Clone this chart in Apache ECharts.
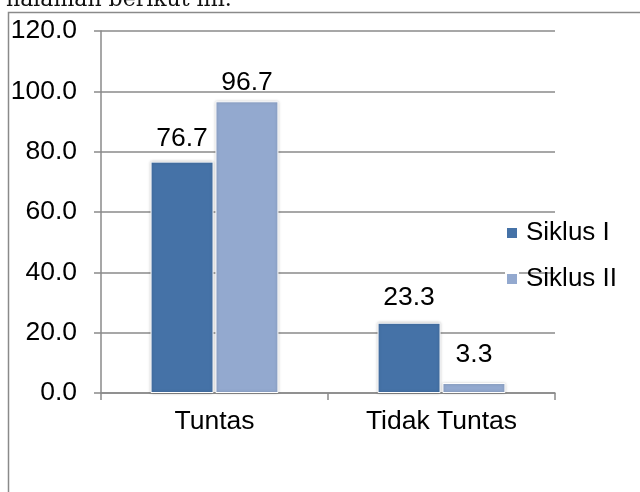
<!DOCTYPE html>
<html>
<head>
<meta charset="utf-8">
<script src="https://cdn.jsdelivr.net/npm/echarts@6/dist/echarts.min.js"></script>
<style>
html,body{margin:0;padding:0;background:#fff;}
#c{width:640px;height:492px;}
</style>
</head>
<body>
<div id="c"></div>
<script>
const categories = ['Tuntas', 'Tidak Tuntas'];
const siklusI = [76.7, 23.3];
const siklusII = [96.7, 3.3];
const seriesNames = ['Siklus I', 'Siklus II'];
const yTicks = { min: 0, max: 120, interval: 20 };

// label offsets (style only)
const gapI = [9, 12];
const gapII = [5, 15];

const chart = echarts.init(document.getElementById('c'), null, { renderer: 'canvas' });
const font = 'Liberation Sans, Arial, sans-serif';
const gray = '#8a8a8a';
const fs = 26.5;

function mk(values, gaps) {
  return values.map((v, i) => ({ value: v, label: { distance: gaps[i] } }));
}

chart.setOption({
  animation: false,
  backgroundColor: '#fff',
  graphic: [
    { type: 'rect', shape: { x: 8.5, y: 12.5, width: 700, height: 600 }, style: { fill: 'none', stroke: gray, lineWidth: 1.5 }, z: 0 },
    { type: 'text', x: 6, y: 11, style: { text: 'halaman berikut ini.', font: '22px "DejaVu Serif", serif', fill: '#111', verticalAlign: 'bottom', align: 'left' }, z: 10 }
  ],
  legend: {
    orient: 'vertical',
    left: 505,
    top: 220,
    padding: 0,
    itemWidth: 12,
    itemHeight: 12,
    itemGap: 20,
    icon: 'rect',
    data: seriesNames,
    textStyle: { fontFamily: font, fontSize: 26, color: '#000', padding: [0, 0, 0, 3] }
  },
  grid: { left: 101, top: 31, right: 85, bottom: 99, containLabel: false },
  xAxis: {
    type: 'category',
    data: categories,
    boundaryGap: true,
    axisLine: { lineStyle: { color: gray, width: 1.5 } },
    axisTick: { show: true, length: 7, alignWithLabel: false, lineStyle: { color: gray, width: 1.5 } },
    axisLabel: { fontFamily: font, fontSize: fs, color: '#000', margin: 15 }
  },
  yAxis: {
    type: 'value',
    min: yTicks.min,
    max: yTicks.max,
    interval: yTicks.interval,
    axisLine: { show: true, lineStyle: { color: gray, width: 1.5 } },
    axisTick: { show: true, length: 7, lineStyle: { color: gray, width: 1.5 } },
    splitLine: { show: true, lineStyle: { color: gray, width: 1.5 } },
    axisLabel: { fontFamily: font, fontSize: fs, color: '#000', margin: 24, formatter: v => v.toFixed(1) }
  },
  series: [
    {
      name: seriesNames[0], type: 'bar', data: mk(siklusI, gapI),
      barWidth: 63, barGap: '3%',
      itemStyle: { color: '#4572A7', borderColor: '#fff', borderWidth: 1, shadowColor: 'rgba(0,0,0,0.25)', shadowBlur: 3 },
      label: { show: true, position: 'top', fontFamily: font, fontSize: fs, color: '#000', formatter: p => p.value.toFixed(1) }
    },
    {
      name: seriesNames[1], type: 'bar', data: mk(siklusII, gapII),
      barWidth: 63, barGap: '3%',
      itemStyle: { color: '#93A9CF', borderColor: '#fff', borderWidth: 1, shadowColor: 'rgba(0,0,0,0.25)', shadowBlur: 3 },
      label: { show: true, position: 'top', fontFamily: font, fontSize: fs, color: '#000', formatter: p => p.value.toFixed(1) }
    }
  ]
});
</script>
</body>
</html>
